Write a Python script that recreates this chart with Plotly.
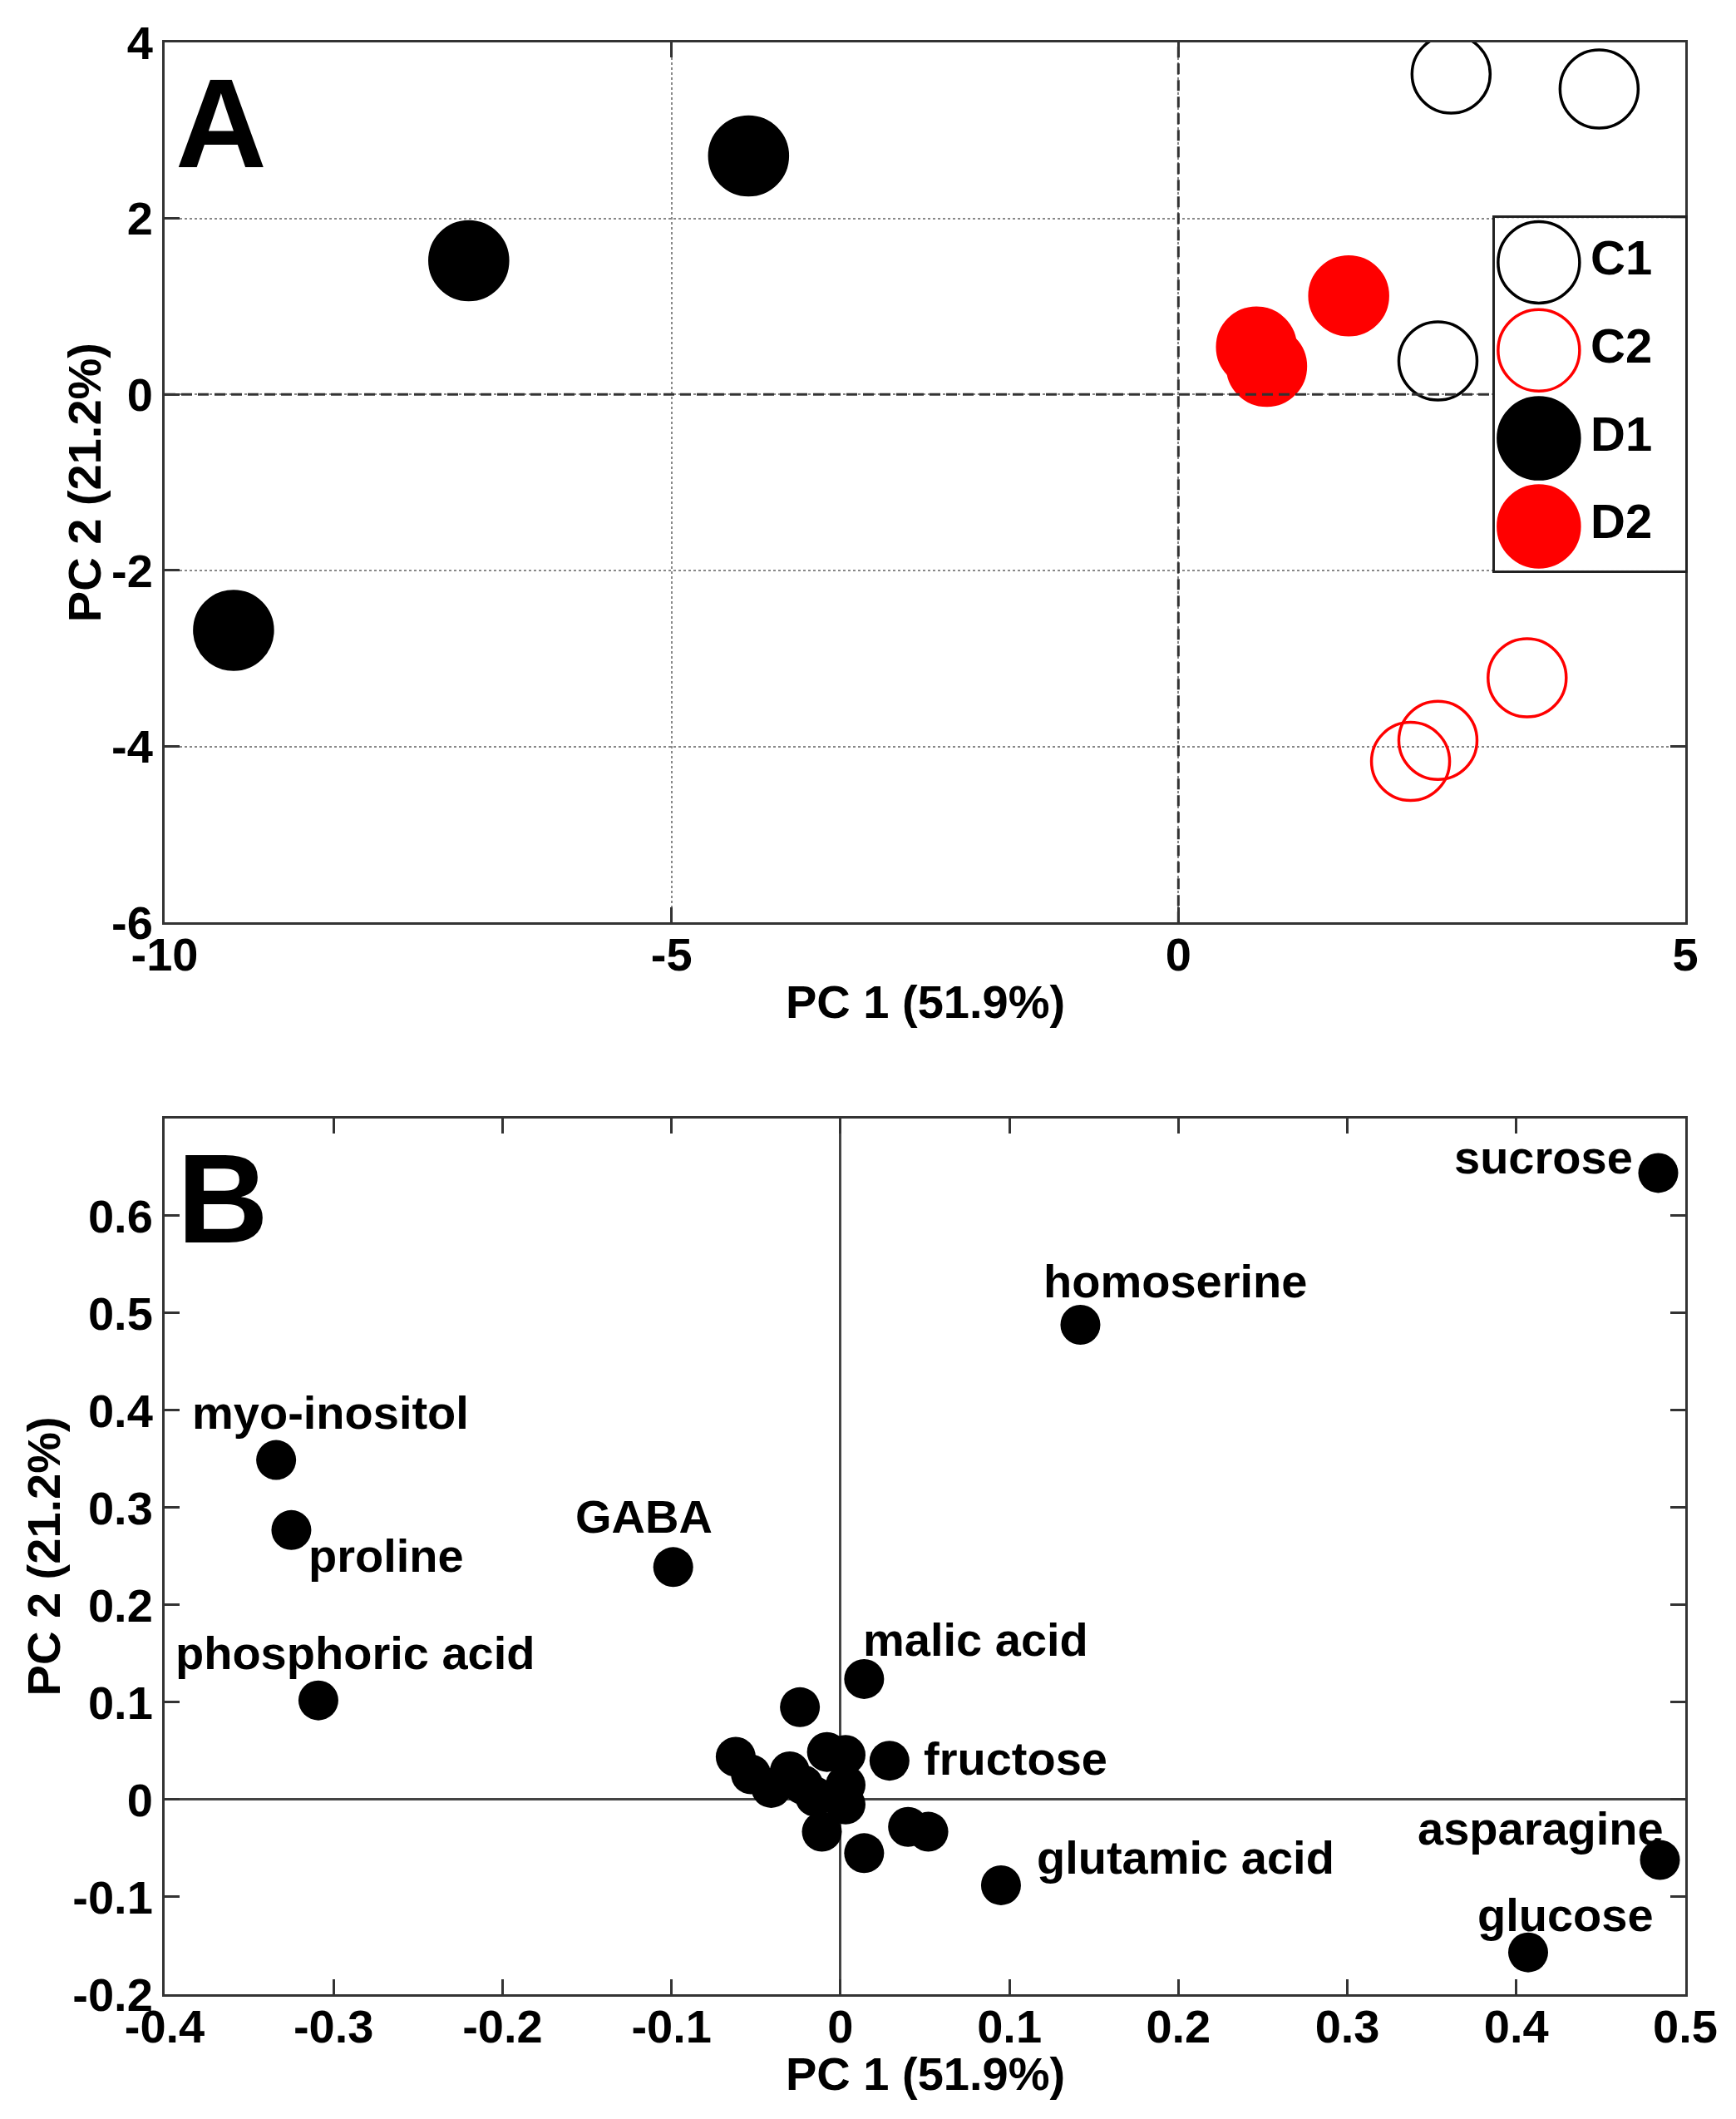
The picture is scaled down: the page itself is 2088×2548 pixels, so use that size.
import plotly.graph_objects as go

# ---------------- Panel A : PCA scores ----------------
groups = ['C1', 'C2', 'D1', 'D2']
group_colors = ['black', 'red', 'black', 'red']
group_symbols = ['circle-open', 'circle-open', 'circle', 'circle']

c1_pc1 = [2.69, 4.15, 2.56]
c1_pc2 = [3.64, 3.47, 0.38]
c2_pc1 = [3.44, 2.56, 2.29]
c2_pc2 = [-3.22, -3.93, -4.17]
d1_pc1 = [-9.32, -7.00, -4.24]
d1_pc2 = [-2.68, 1.52, 2.71]
d2_pc1 = [1.68, 0.77, 0.87]
d2_pc2 = [1.12, 0.54, 0.32]

score_ticks_x = [-10, -5, 0, 5]
score_ticks_y = [-6, -4, -2, 0, 2, 4]

# ---------------- Panel B : loadings ----------------
metabolites = ['sucrose', 'homoserine', 'myo-inositol', 'proline', 'GABA',
               'phosphoric acid', 'malic acid', 'fructose', 'glutamic acid',
               'asparagine', 'glucose']
load_pc1 = [0.484, 0.142, -0.334, -0.325, -0.099, -0.309, 0.014, 0.029, 0.095, 0.485, 0.407]
load_pc2 = [0.644, 0.488, 0.349, 0.277, 0.239, 0.102, 0.124, 0.040, -0.088, -0.062, -0.157]

# unlabeled metabolites around the origin
other_pc1 = [-0.024, -0.062, -0.053, -0.041, -0.030, -0.022, -0.008, 0.003,
             0.003, -0.015, 0.003, -0.011, 0.014, 0.040, 0.052]
other_pc2 = [0.095, 0.044, 0.026, 0.012, 0.029, 0.015, 0.049, 0.046,
             0.015, 0.003, -0.005, -0.033, -0.055, -0.028, -0.033]

load_ticks_x = [-0.4, -0.3, -0.2, -0.1, 0, 0.1, 0.2, 0.3, 0.4, 0.5]
load_ticktext_x = ['-0.4', '-0.3', '-0.2', '-0.1', '0', '0.1', '0.2', '0.3', '0.4', '0.5']
load_ticks_y = [-0.2, -0.1, 0, 0.1, 0.2, 0.3, 0.4, 0.5, 0.6]
load_ticktext_y = ['-0.2', '-0.1', '0', '0.1', '0.2', '0.3', '0.4', '0.5', '0.6']

x_title = 'PC 1 (51.9%)'
y_title = 'PC 2 (21.2%)'

# label placement (anchor, x offset px, y offset px)
label_pos = {
    'sucrose': ('right', -28, 19),
    'homoserine': ('center', 114, 52),
    'myo-inositol': ('left', -103, 57),
    'proline': ('left', 19, -31),
    'GABA': ('center', -35, 61),
    'phosphoric acid': ('left', -174, 57),
    'malic acid': ('left', -3, 47),
    'fructose': ('left', 39, 3),
    'glutamic acid': ('left', 41, 33),
    'asparagine': ('right', 6, 38),
    'glucose': ('right', 153, 45),
}

FONT = dict(family='Liberation Sans, Arial', size=56, color='black', weight='bold')
AXCOL = '#333333'
LEGEND_X0 = 0.8748  # left edge of the legend box (fraction of plot width)

fig = go.Figure()

# scores
score_sets = [(c1_pc1, c1_pc2), (c2_pc1, c2_pc2), (d1_pc1, d1_pc2), (d2_pc1, d2_pc2)]
for name, (xs, ys), col, sym in zip(groups, score_sets, group_colors, group_symbols):
    fig.add_trace(go.Scatter(x=xs, y=ys, mode='markers', name=name,
                             marker=dict(size=94, color=col, symbol=sym,
                                         line=dict(width=3.5, color=col)),
                             xaxis='x', yaxis='y', showlegend=False))

# loadings
fig.add_trace(go.Scatter(x=other_pc1, y=other_pc2, mode='markers',
                         marker=dict(size=48, color='black'),
                         xaxis='x2', yaxis='y2', showlegend=False))
fig.add_trace(go.Scatter(x=load_pc1, y=load_pc2, mode='markers',
                         marker=dict(size=48, color='black'),
                         xaxis='x2', yaxis='y2', showlegend=False))

for name, lx, ly in zip(metabolites, load_pc1, load_pc2):
    anc, dx, dy = label_pos[name]
    fig.add_annotation(x=lx, y=ly, xref='x2', yref='y2', text=name, showarrow=False,
                       xanchor=anc, yanchor='middle', xshift=dx, yshift=dy, font=FONT)

# custom legend box for panel A
fig.add_trace(go.Scatter(x=[0] * len(groups), y=groups, mode='markers+text',
                         text=groups, textposition='middle right',
                         textfont=dict(FONT, size=58),
                         marker=dict(size=98, color=group_colors, symbol=group_symbols,
                                     line=dict(width=3.5, color=group_colors)),
                         xaxis='x3', yaxis='y3', showlegend=False))

# dashed zero lines in panel A (drawn over the markers, as in the original)
fig.add_shape(type='line', xref='x', yref='y domain', x0=0, x1=0, y0=0, y1=1,
              line=dict(color=AXCOL, width=3, dash='13px,7px'))
fig.add_shape(type='line', xref='x domain', yref='y', x0=0, x1=LEGEND_X0, y0=0, y1=0,
              line=dict(color=AXCOL, width=3, dash='13px,7px'))
# opaque legend background
fig.add_shape(type='rect', xref='x3', yref='y3', x0=-0.3, x1=1, y0=-0.5, y1=3.5,
              fillcolor='white', line=dict(width=0), layer='below')

# panel letters
fig.add_annotation(text='A', xref='x domain', yref='y domain', x=0, y=1,
                   xanchor='left', yanchor='top', xshift=11, yshift=-10,
                   showarrow=False, font=dict(FONT, size=152))
fig.add_annotation(text='B', xref='x2 domain', yref='y2 domain', x=0, y=1,
                   xanchor='left', yanchor='top', xshift=13, yshift=-9,
                   showarrow=False, font=dict(FONT, size=152))

# axis titles
for xd, yd, ysh, xsh in [('x domain', 'y domain', -95, -97),
                         ('x2 domain', 'y2 domain', -95, -146)]:
    fig.add_annotation(text=x_title, xref=xd, yref=yd, x=0.5, y=0,
                       xanchor='center', yanchor='middle', yshift=ysh,
                       showarrow=False, font=FONT)
    fig.add_annotation(text=y_title, xref=xd, yref=yd, x=0, y=0.5, textangle=-90,
                       xanchor='center', yanchor='middle', xshift=xsh,
                       showarrow=False, font=FONT)

common = dict(ticks='inside', ticklen=18, tickwidth=3, tickcolor=AXCOL,
              showline=True, linewidth=3, linecolor=AXCOL, mirror='ticks',
              tickfont=FONT)

# the page body adds an 8 px offset, so the figure is 8 px smaller on each axis
fig.update_layout(
    width=2080, height=2540,
    margin=dict(l=190, r=61, t=39, b=150),
    paper_bgcolor='white', plot_bgcolor='white',
    xaxis=dict(common, domain=[0, 1], anchor='y', range=[-10, 5],
               tickvals=score_ticks_x, ticktext=[str(v) for v in score_ticks_x],
               showgrid=True, gridcolor='#888888', griddash='dot', gridwidth=2,
               zeroline=False, ticklabelstandoff=-12),
    yaxis=dict(common, domain=[0.5491, 1], anchor='x', range=[-6, 4],
               tickvals=score_ticks_y, ticktext=[str(v) for v in score_ticks_y],
               showgrid=True, gridcolor='#888888', griddash='dot', gridwidth=2,
               zeroline=False),
    xaxis2=dict(common, domain=[0, 1], anchor='y2', range=[-0.4, 0.5],
                tickvals=load_ticks_x, ticktext=load_ticktext_x,
                showgrid=False, zeroline=True, zerolinecolor='#444444', zerolinewidth=3,
                ticklabelstandoff=-12),
    yaxis2=dict(common, domain=[0, 0.4487], anchor='x2', range=[-0.2, 0.7],
                tickvals=load_ticks_y, ticktext=load_ticktext_y,
                showgrid=False, zeroline=True, zerolinecolor='#444444', zerolinewidth=3),
    xaxis3=dict(domain=[LEGEND_X0, 1], anchor='y3', range=[-0.3, 1],
                showticklabels=False, ticks='', showgrid=False, zeroline=False,
                showline=True, linewidth=3, linecolor='#222222', mirror=True),
    yaxis3=dict(domain=[0.7295, 0.9099], anchor='x3', type='category',
                categoryorder='array', categoryarray=groups[::-1], range=[-0.5, 3.5],
                showticklabels=False, ticks='', showgrid=False, zeroline=False,
                showline=True, linewidth=3, linecolor='#222222', mirror=True),
)

fig.write_html('out.html')
